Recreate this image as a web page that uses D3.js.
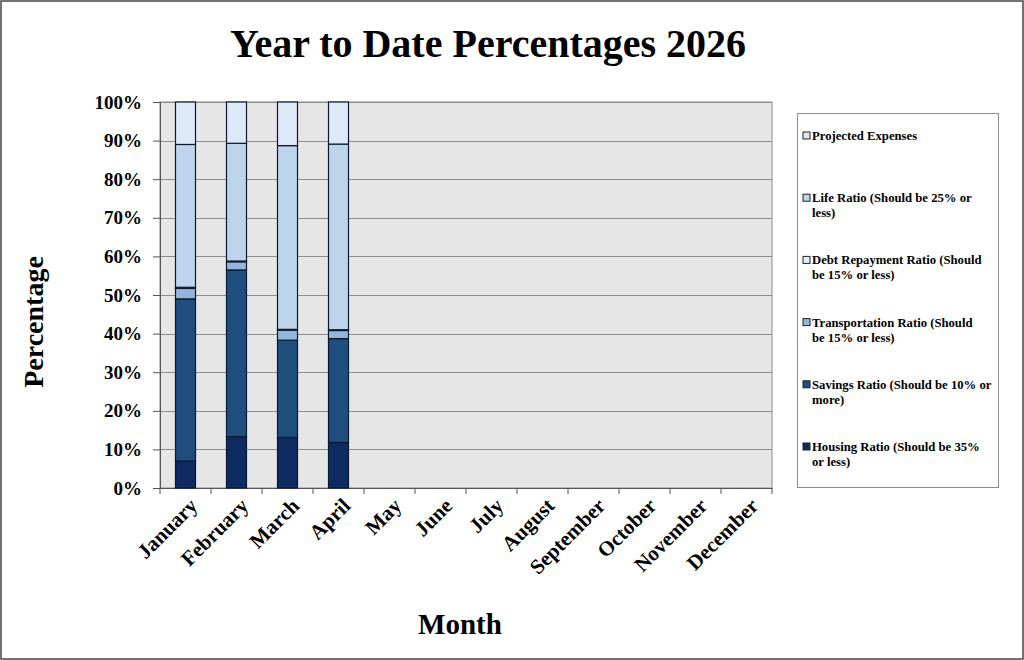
<!DOCTYPE html>
<html>
  <head>
    <meta charset="utf-8">
    <title>Year to Date Percentages 2026</title>
    <script src="https://d3js.org/d3.v7.min.js"></script>
  </head>
  <style>
    body { margin: 0; background: #fff; }
    text { font-family: "Liberation Serif", "DejaVu Serif", serif; font-weight: bold; fill: #000; }
    .grid-line { stroke: #8c8c8c; stroke-width: 1px; }
  </style>
  <body>
    <script>
      const width = 1024;
      const height = 660;

      const months = ["January", "February", "March", "April", "May", "June",
        "July", "August", "September", "October", "November", "December"];

      // values in percent, only the first four months are filled
      const housing        = [7.0, 13.3, 13.1, 11.8];
      const savings        = [42.0, 43.2, 25.2, 26.9];
      const transportation = [2.7, 2.1, 2.6, 2.1];
      const debtRepayment  = [0.3, 0.2, 0.2, 0.2];
      const life           = [37.0, 30.5, 47.6, 48.1];
      const projected      = [11.0, 10.7, 11.3, 10.9];

      const seriesKeys = ["housing", "savings", "transportation", "debt", "life", "projected"];
      const seriesNames = {
        projected: ["Projected Expenses"],
        life: ["Life Ratio (Should be 25% or", "less)"],
        debt: ["Debt Repayment Ratio (Should", "be 15% or less)"],
        transportation: ["Transportation Ratio (Should", "be 15% or less)"],
        savings: ["Savings Ratio (Should be 10% or", "more)"],
        housing: ["Housing Ratio (Should be 35%", "or less)"]
      };
      const colors = {
        housing: "#0e2a63",
        savings: "#1f4e7e",
        transportation: "#95b6dc",
        debt: "#ddeef6",
        life: "#bcd4ec",
        projected: "#dde9f6"
      };

      const yTicks = [0, 10, 20, 30, 40, 50, 60, 70, 80, 90, 100];

      const data = months.map(function(m, i) {
        return {
          month: m,
          housing: housing[i] || 0,
          savings: savings[i] || 0,
          transportation: transportation[i] || 0,
          debt: debtRepayment[i] || 0,
          life: life[i] || 0,
          projected: projected[i] || 0
        };
      });

      const series = d3.stack().keys(seriesKeys)(data.slice(0, housing.length));

      const plot = {left: 160, right: 772, top: 102, bottom: 488};

      const xScale = d3.scaleBand()
        .domain(months)
        .range([plot.left, plot.right]);

      const yScale = d3.scaleLinear()
        .domain([0, 100])
        .range([plot.bottom, plot.top]);

      const svg = d3.select("body")
        .append("svg")
          .attr("width", width)
          .attr("height", height);

      svg.append("rect")
        .attr("x", 1).attr("y", 1)
        .attr("width", width - 2).attr("height", height - 2)
        .attr("fill", "#fff")
        .attr("stroke", "#444")
        .attr("stroke-width", 1.5);

      // plot background
      svg.append("rect")
        .attr("x", plot.left).attr("y", plot.top)
        .attr("width", plot.right - plot.left)
        .attr("height", plot.bottom - plot.top)
        .attr("fill", "#e6e6e6")
        .attr("stroke", "#8c8c8c");

      svg.append("g")
        .selectAll("line")
        .data(yTicks)
        .enter()
        .append("line")
          .classed("grid-line", true)
          .attr("x1", plot.left)
          .attr("x2", plot.right)
          .attr("y1", function(d) { return Math.round(yScale(d)) + 0.5; })
          .attr("y2", function(d) { return Math.round(yScale(d)) + 0.5; });

      // y axis
      const yAxis = d3.axisLeft(yScale)
        .tickValues(yTicks)
        .tickSize(7)
        .tickFormat(function(d) { return d + "%"; });

      const yG = svg.append("g")
        .attr("transform", "translate(" + plot.left + ",0)")
        .call(yAxis);
      yG.select(".domain").attr("stroke", "#555");
      yG.selectAll(".tick line").attr("stroke", "#555");
      yG.selectAll(".tick text")
        .attr("x", -18)
        .style("font-size", "19px");

      // x axis
      const xAxis = d3.axisBottom(xScale).tickSize(0).tickSizeOuter(0);
      const xG = svg.append("g")
        .attr("transform", "translate(0," + plot.bottom + ")")
        .call(xAxis);
      xG.select(".domain").attr("stroke", "#555");
      xG.selectAll(".tick text")
        .style("font-size", "21px")
        .attr("text-anchor", "end")
        .attr("dy", 0)
        .attr("transform", function() { return "translate(11,17) rotate(-45)"; });

      // tick marks at band edges
      svg.append("g")
        .selectAll("line")
        .data(months.concat(["end"]))
        .enter()
        .append("line")
          .attr("x1", function(d, i) { return plot.left + i * xScale.step(); })
          .attr("x2", function(d, i) { return plot.left + i * xScale.step(); })
          .attr("y1", plot.bottom)
          .attr("y2", plot.bottom + 6)
          .attr("stroke", "#555");

      // bars
      const barWidth = 20;
      svg.append("g")
        .selectAll("g")
        .data(series)
        .enter()
        .append("g")
          .attr("fill", function(d) { return colors[d.key]; })
        .selectAll("rect")
        .data(function(d) { return d; })
        .enter()
        .append("rect")
          .attr("x", function(d) { return xScale(d.data.month) + xScale.bandwidth() / 2 - barWidth / 2; })
          .attr("y", function(d) { return yScale(d[1]); })
          .attr("width", barWidth)
          .attr("height", function(d) { return yScale(d[0]) - yScale(d[1]); })
          .attr("stroke", "#0a1a2e")
          .attr("stroke-width", 1.2);

      // titles
      svg.append("text")
        .attr("x", 488)
        .attr("y", 57)
        .attr("text-anchor", "middle")
        .style("font-size", "40px")
        .text("Year to Date Percentages 2026");

      svg.append("text")
        .attr("transform", "translate(43,322) rotate(-90)")
        .attr("text-anchor", "middle")
        .style("font-size", "28px")
        .text("Percentage");

      svg.append("text")
        .attr("x", 460)
        .attr("y", 634)
        .attr("text-anchor", "middle")
        .style("font-size", "29px")
        .text("Month");

      // legend
      const legend = svg.append("g");
      legend.append("rect")
        .attr("x", 797.5).attr("y", 113.5)
        .attr("width", 201).attr("height", 374)
        .attr("fill", "#fff")
        .attr("stroke", "#8c8c8c");

      const legendKeys = seriesKeys.slice().reverse();
      const entry = legend.selectAll("g.entry")
        .data(legendKeys)
        .enter()
        .append("g")
          .classed("entry", true)
          .attr("transform", function(d, i) { return "translate(803," + (136 + i * 62.2) + ")"; });

      entry.append("rect")
        .attr("x", 0).attr("y", -4)
        .attr("width", 7).attr("height", 7)
        .attr("fill", function(d) { return colors[d]; })
        .attr("stroke", "#222");

      entry.append("text")
        .attr("x", 9)
        .attr("y", 4)
        .style("font-size", "12.7px")
        .selectAll("tspan")
        .data(function(d) { return seriesNames[d]; })
        .enter()
        .append("tspan")
          .attr("x", 9)
          .attr("dy", function(d, i) { return i === 0 ? 0 : 15; })
          .text(function(d) { return d; });
    </script>
  </body>
</html>
